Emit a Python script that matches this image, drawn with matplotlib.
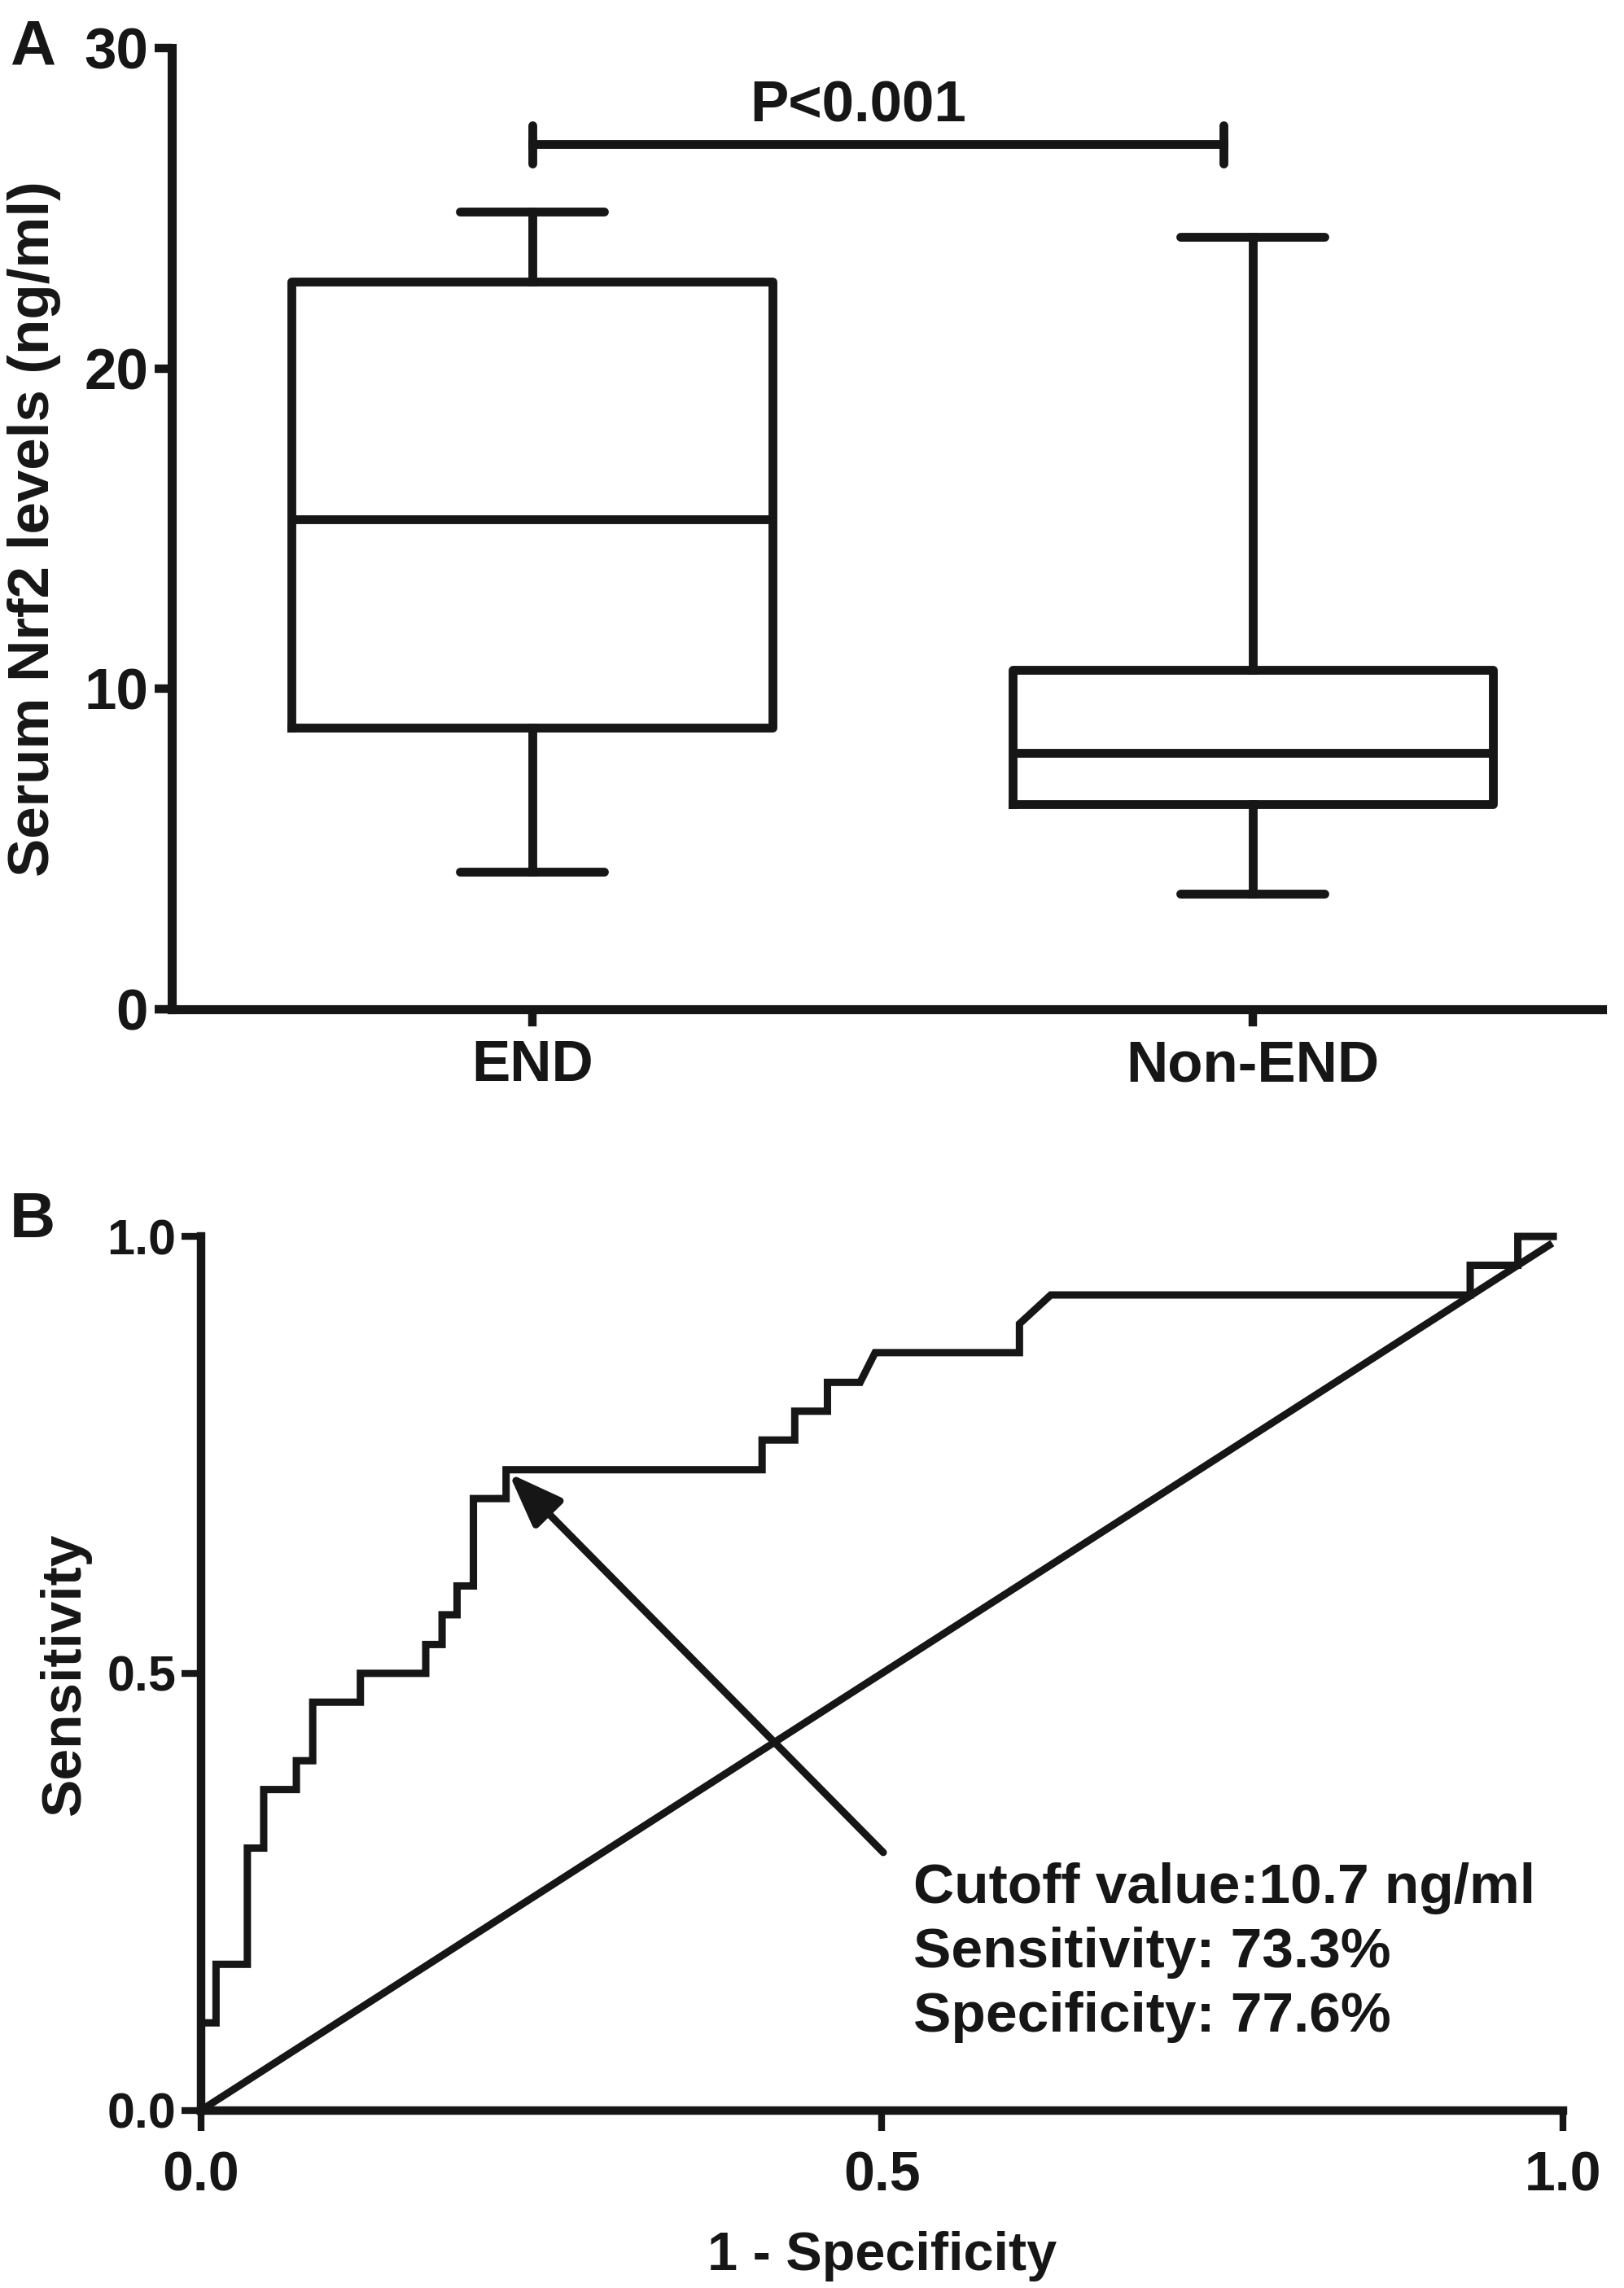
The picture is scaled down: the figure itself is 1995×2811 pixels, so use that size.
import matplotlib
matplotlib.use("Agg")
import matplotlib.pyplot as plt

plt.rcParams['font.family'] = ['Liberation Sans', 'DejaVu Sans']
plt.rcParams['font.weight'] = 'bold'

# panel A: box plot summary values (ng/ml)
groups = ["END", "Non-END"]
med = [15.3, 8.0]
q1 = [8.8, 6.4]
q3 = [22.7, 10.6]
whis_lo = [4.3, 3.6]
whis_hi = [24.9, 24.1]
p_text = "P<0.001"
bracket_y = 27.0

# panel B: ROC curve vertices
fpr = [0, 0, 0.011, 0.011, 0.034, 0.034, 0.046, 0.046, 0.070, 0.070, 0.082, 0.082,
       0.117, 0.117, 0.165, 0.165, 0.177, 0.177, 0.188, 0.188, 0.200, 0.200, 0.224,
       0.224, 0.412, 0.412, 0.436, 0.436, 0.460, 0.460, 0.484, 0.495, 0.601, 0.601,
       0.624, 0.932, 0.932, 0.967, 0.967, 0.993]
tpr = [0, 0.100, 0.100, 0.167, 0.167, 0.300, 0.300, 0.367, 0.367, 0.400, 0.400, 0.467,
       0.467, 0.500, 0.500, 0.533, 0.533, 0.567, 0.567, 0.600, 0.600, 0.700, 0.700,
       0.733, 0.733, 0.767, 0.767, 0.800, 0.800, 0.833, 0.833, 0.867, 0.867, 0.900,
       0.933, 0.933, 0.967, 0.967, 1.0, 1.0]
ref_x = [0, 0.99]
ref_y = [0, 0.99]
cutoff = (0.226, 0.729)
info = "Cutoff value:10.7 ng/ml\nSensitivity: 73.3%\nSpecificity: 77.6%"

ink = '#161616'
fig = plt.figure(figsize=(19.95, 28.11), dpi=100)

# ---- panel A
axA = fig.add_axes([0.1058, 0.5589, 0.8807, 0.4201])
stats = []
for i in range(len(groups)):
    stats.append(dict(med=med[i], q1=q1[i], q3=q3[i], whislo=whis_lo[i],
                      whishi=whis_hi[i], fliers=[], label=groups[i]))
lw = 7.8
axA.bxp(stats, positions=[1, 2], widths=0.667, showfliers=False,
        boxprops=dict(linewidth=lw, color=ink),
        medianprops=dict(linewidth=lw, color=ink),
        whiskerprops=dict(linewidth=lw, color=ink),
        capprops=dict(linewidth=lw, color=ink, solid_capstyle='round'),
        capwidths=0.2)
axA.set_xlim(0.5, 2.485)
axA.set_ylim(0, 30)
axA.set_yticks([0, 10, 20, 30])
axA.spines['top'].set_visible(False)
axA.spines['right'].set_visible(False)
for s in ['left', 'bottom']:
    axA.spines[s].set_linewidth(8)
    axA.spines[s].set_color(ink)
axA.tick_params(width=7.5, length=15, labelsize=51, pad=6, color=ink, labelcolor=ink)
axA.tick_params(axis='x', pad=12)
axA.set_ylabel("Serum Nrf2 levels (ng/ml)", fontsize=51, fontweight='bold',
               labelpad=20, color=ink)
axA.plot([1, 1.96], [bracket_y, bracket_y], color=ink, lw=lw)
axA.plot([1, 1], [bracket_y - 0.6, bracket_y + 0.6], color=ink, lw=lw,
         solid_capstyle='round')
axA.plot([1.96, 1.96], [bracket_y - 0.6, bracket_y + 0.6], color=ink, lw=lw,
         solid_capstyle='round')
axA.text(1.452, bracket_y + 0.7, p_text, ha='center', va='baseline', fontsize=51,
         fontweight='bold', color=ink)
fig.text(0.006, 0.979, "A", fontsize=56, fontweight='bold', va='center', color=ink)

# ---- panel B
axB = fig.add_axes([0.1238, 0.0777, 0.8385, 0.3819])
axB.plot(fpr, tpr, color=ink, lw=6.5, solid_joinstyle='miter')
axB.plot(ref_x, ref_y, color=ink, lw=6.5)
axB.set_xlim(0, 1)
axB.set_ylim(0, 1)
axB.set_xticks([0, 0.5, 1.0])
axB.set_yticks([0, 0.5, 1.0])
axB.set_xticklabels(["0.0", "0.5", "1.0"])
axB.set_yticklabels(["0.0", "0.5", "1.0"])
axB.spines['top'].set_visible(False)
axB.spines['right'].set_visible(False)
for s in ['left', 'bottom']:
    axB.spines[s].set_linewidth(7.5)
    axB.spines[s].set_color(ink)
axB.tick_params(axis='x', width=6, length=18, labelsize=49, pad=17, color=ink,
                labelcolor=ink)
axB.tick_params(axis='y', width=6, length=17, labelsize=44, pad=5, color=ink,
                labelcolor=ink)
axB.set_xlabel("1 - Specificity", fontsize=48, fontweight='bold', labelpad=26,
               color=ink)
axB.set_ylabel("Sensitivity", fontsize=50, fontweight='bold', labelpad=14, color=ink)
axB.annotate("", xy=cutoff, xytext=(0.501, 0.295),
             arrowprops=dict(arrowstyle='-|>,head_length=2.0,head_width=0.75',
                             mutation_scale=20, color=ink, lw=6.5,
                             shrinkA=0, shrinkB=0))
axB.text(0.523, 0.284, info, ha='left', va='top', fontsize=50, fontweight='bold',
         linespacing=1.3, color=ink)
fig.text(0.006, 0.4666, "B", fontsize=56, fontweight='bold', va='center', color=ink)

for ax in (axA, axB):
    for l in ax.lines:
        l.set_clip_on(False)

fig.savefig("out.png", dpi=100)
